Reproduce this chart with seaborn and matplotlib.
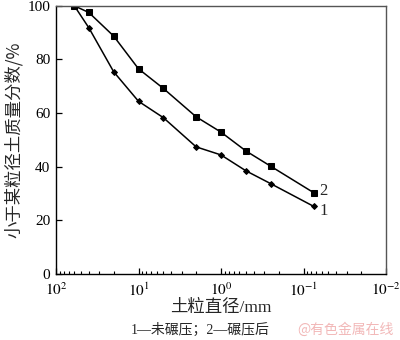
import matplotlib
matplotlib.use("Agg")
import matplotlib.pyplot as plt
import seaborn as sns
import pandas as pd
from matplotlib.ticker import LogLocator, FixedLocator

# data
diameter_mm = [60, 40, 20, 10, 5, 2, 1, 0.5, 0.25, 0.075]
uncompacted = [100, 91.8, 75.4, 64.4, 58.3, 47.4, 44.4, 38.5, 33.7, 25.2]   # 1
compacted = [100, 97.5, 88.7, 76.5, 69.2, 58.6, 52.9, 45.9, 40.2, 30.3]     # 2
series_names = ["1", "2"]
y_ticks = [0, 20, 40, 60, 80, 100]
x_ticks = [100, 10, 1, 0.1, 0.01]
x_ticklabels = [r"$10^{2}$", r"$10^{1}$", r"$10^{0}$", r"$10^{-1}$", r"$10^{-2}$"]
ylabel = "小于某粒径土质量分数/%"
xlabel = "土粒直径/mm"
caption = "1—未碾压；2—碾压后"
watermark = "@有色金属在线"

sns.set_theme(style="white")
plt.rcParams["font.family"] = ["Liberation Serif", "Noto Sans CJK SC"]
plt.rcParams["mathtext.fontset"] = "stix"

df1 = pd.DataFrame({"d": diameter_mm, "p": uncompacted})
df2 = pd.DataFrame({"d": diameter_mm, "p": compacted})

fig = plt.figure(figsize=(4.0, 3.4), dpi=100)
ax = fig.add_axes([0.14, 0.194, 0.825, 0.789])

sns.lineplot(data=df1, x="d", y="p", ax=ax, color="black", marker="D",
             markersize=3.0, markeredgecolor="black", linewidth=1.1)
sns.lineplot(data=df2, x="d", y="p", ax=ax, color="black", marker="s",
             markersize=5, markeredgecolor="black", linewidth=1.1)

ax.set_xscale("log")
ax.set_xlim(100, 0.01)
ax.set_ylim(0, 100)
ax.xaxis.set_major_locator(FixedLocator(x_ticks))
ax.set_xticklabels(x_ticklabels)
ax.xaxis.set_minor_locator(LogLocator(base=10, subs=range(2, 10)))
ax.set_yticks(y_ticks)
ax.set_yticklabels([str(v) for v in y_ticks])

ax.tick_params(axis="both", which="major", direction="in", length=4.5, width=0.9,
               labelsize=11, color="black", labelcolor="black")
ax.tick_params(axis="x", which="major", pad=5.5)
ax.tick_params(axis="y", which="major", pad=4)
ax.tick_params(axis="x", which="minor", direction="in", length=2.5, width=0.8, color="black")
ax.tick_params(axis="x", which="both", top=False, bottom=True)
ax.tick_params(axis="y", which="both", left=True, right=False)

for s in ax.spines.values():
    s.set_visible(True)
    s.set_color("black")
    s.set_linewidth(1.0)
ax.spines["top"].set_color("#555555")
ax.spines["right"].set_color("#555555")

ax.set_xlabel(xlabel, fontsize=12.5, family=["Liberation Serif", "Noto Sans CJK SC"], labelpad=1)
ax.set_ylabel(ylabel, fontsize=12.5, family=["Noto Sans CJK SC"], labelpad=3)
ax.grid(False)

ax.annotate(series_names[1], xy=(diameter_mm[-1], compacted[-1]), xytext=(4, 1),
            textcoords="offset points", fontsize=12, va="center", ha="left")
ax.annotate(series_names[0], xy=(diameter_mm[-1], uncompacted[-1]), xytext=(4, -3),
            textcoords="offset points", fontsize=12, va="center", ha="left")

fig.text(0.5, 0.03, caption, ha="center", va="center", fontsize=10,
         family=["Liberation Serif", "Noto Sans CJK SC"])
fig.text(0.985, 0.03, watermark, ha="right", va="center", fontsize=10,
         color="#f2b8b8", family=["Noto Sans CJK SC"])

fig.savefig("out.png", dpi=100)
